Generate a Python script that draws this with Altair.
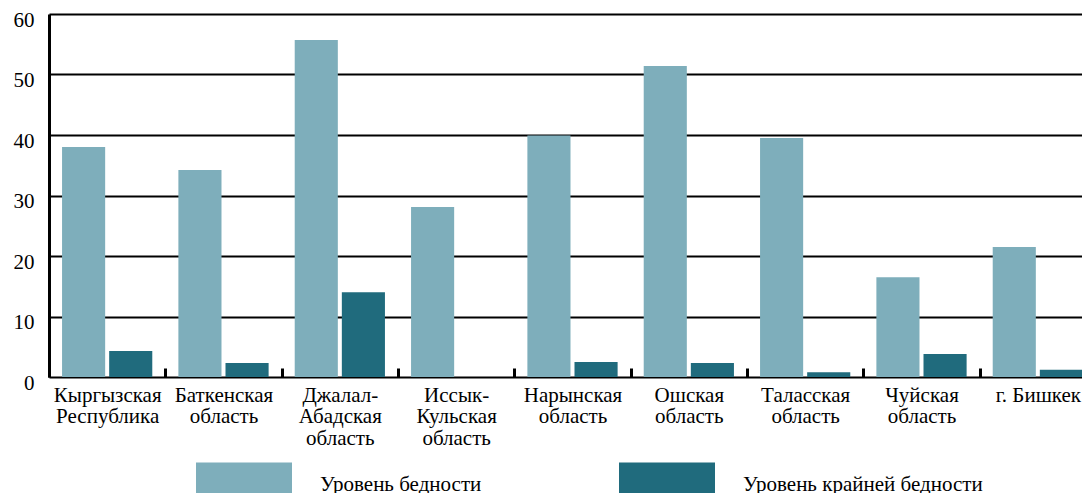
import altair as alt
import pandas as pd

regions = [
    "Кыргызская\nРеспублика",
    "Баткенская\nобласть",
    "Джалал-\nАбадская\nобласть",
    "Иссык-\nКульская\nобласть",
    "Нарынская\nобласть",
    "Ошская\nобласть",
    "Таласская\nобласть",
    "Чуйская\nобласть",
    "г.  Бишкек",
]
poverty = [38.0, 34.2, 55.7, 28.1, 39.9, 51.4, 39.5, 16.5, 21.5]
extreme = [4.3, 2.3, 14.0, 0.0, 2.5, 2.3, 0.8, 3.8, 1.2]
series = ["Уровень бедности", "Уровень крайней бедности"]
colors = ["#7EAEBB", "#206B7D"]
y_ticks = [0, 10, 20, 30, 40, 50, 60]

FONT = "Liberation Serif"

rows = []
for r, p, e in zip(regions, poverty, extreme):
    rows.append({"region": r, "series": series[0], "value": p})
    rows.append({"region": r, "series": series[1], "value": e})
df = pd.DataFrame(rows)

x_axis = alt.Axis(
    title=None,
    orient="bottom",
    offset=-9,
    labelAngle=0,
    labelExpr="split(datum.label, '\\n')",
    labelLineHeight=21.7,
    labelPadding=7,
    labelBaseline="top",
    domain=False,
    ticks=True,
    tickBand="extent",
    tickSize=9,
    tickWidth=3,
    tickColor="black",
    tickOpacity=1,
    grid=False,
    zindex=1,
)
y_axis = alt.Axis(
    title=None,
    values=y_ticks,
    labelPadding=15,
    labelOffset=6,
    ticks=False,
    grid=True,
)

chart = (
    alt.Chart(df)
    .mark_bar()
    .encode(
        x=alt.X(
            "region:N",
            sort=regions,
            scale=alt.Scale(domain=regions, paddingInner=0, paddingOuter=0),
            axis=x_axis,
        ),
        xOffset=alt.XOffset(
            "series:N",
            sort=series,
            scale=alt.Scale(domain=series, paddingInner=0.085, paddingOuter=0.277),
        ),
        y=alt.Y("value:Q", scale=alt.Scale(domain=[0, 60], nice=False), axis=y_axis),
        color=alt.Color(
            "series:N",
            sort=series,
            scale=alt.Scale(domain=series, range=colors),
            legend=alt.Legend(
                title=None,
                orient="none",
                legendX=147,
                legendY=423,
                direction="horizontal",
                columns=2,
                columnPadding=137,
                symbolType="M-1,-0.48H1V0.48H-1Z",
                symbolSize=9216,
                symbolStrokeWidth=0,
                labelFont=FONT,
                labelFontSize=21,
                labelColor="black",
                labelOffset=28,
                labelLimit=0,
            ),
        ),
    )
    .properties(
        width=1047,
        height=363,
        background="white",
        autosize=alt.AutoSizeParams(type="none"),
        padding={"left": 41, "top": 6, "right": -14, "bottom": 116},
    )
    .configure_view(stroke="transparent")
    .configure_axis(
        labelFont=FONT,
        labelFontSize=21,
        labelColor="black",
        labelLimit=0,
        domainColor="black",
        domainWidth=3,
        gridColor="black",
        gridWidth=2,
        gridOpacity=1,
    )
)

chart.save("out.html", embed_options={"renderer": "svg", "actions": False})
